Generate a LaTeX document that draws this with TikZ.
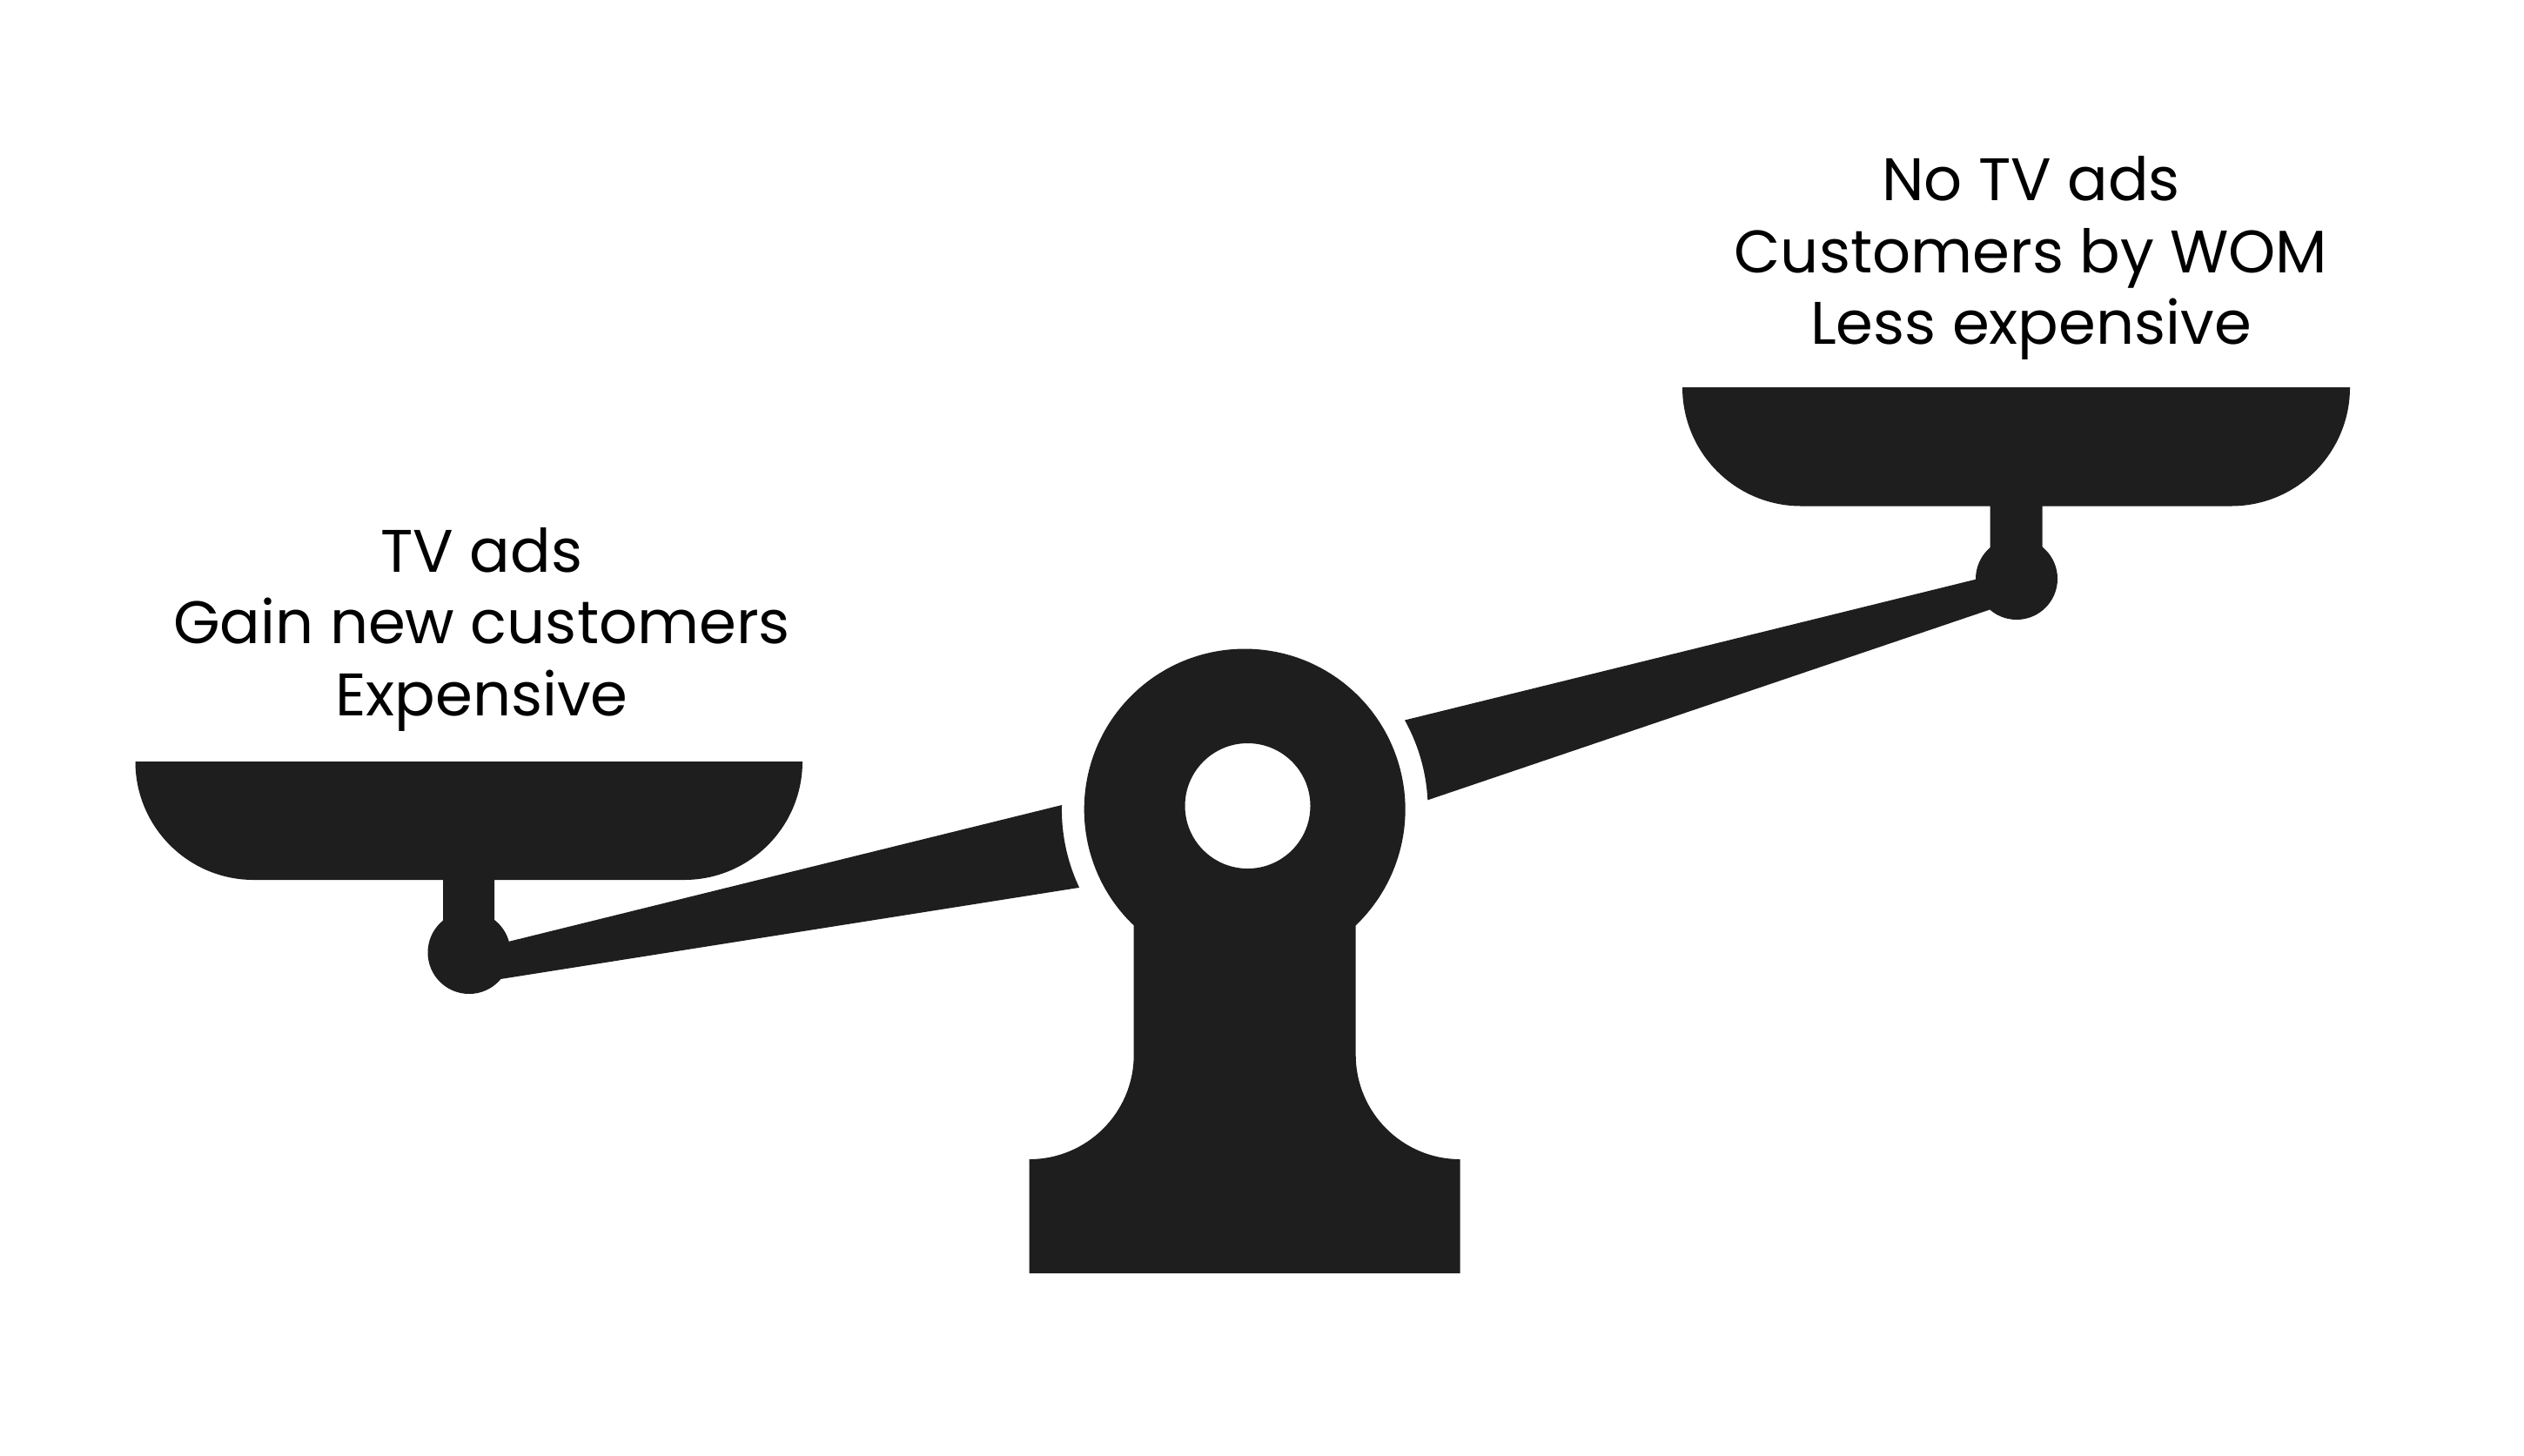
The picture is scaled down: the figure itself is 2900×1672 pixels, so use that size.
\documentclass[tikz,border=0pt]{standalone}
\usepackage{fontspec}
\setmainfont{Poppins}
\definecolor{ink}{HTML}{1E1E1E}
\tikzset{
  solid part/.style={fill=ink,draw=none},
  label text/.style={align=center,text=black,inner sep=0pt,font=\fontsize{34.5}{41.25}\selectfont}
}
\begin{document}
\begin{tikzpicture}[x=0.5pt,y=0.5pt]
\useasboundingbox (0,-1672) rectangle (2900,0);
\fill[white] (0,-1672) rectangle (2900,0);
% stand
\path[solid part,even odd rule]
  (1302.7,-1063.4) arc[start angle=226.3,end angle=-46.3,radius=184.5]
  -- (1557.7,-1212) arc[start angle=180,end angle=270,radius=120]
  -- (1677.7,-1463) -- (1182.7,-1463) -- (1182.7,-1332)
  arc[start angle=270,end angle=360,radius=120] -- cycle
  (1433.5,-926) circle[radius=72];
% left beam
\path[solid part] (539,-1094) -- (584,-1082) -- (1220,-925)
  arc[start angle=178.6,end angle=205.3,radius=210]
  -- (575,-1125) -- cycle;
% right beam
\path[solid part] (2317,-665) -- (2270,-665.7) -- (1614,-827.5)
  arc[start angle=29.1,end angle=2.9,radius=210.7]
  -- (2285.6,-700.7) -- cycle;
% left pan
\path[solid part] (155.5,-875) -- (922,-875)
  arc[start angle=0,end angle=-90,radius=136] -- (568,-1011) -- (568,-1060)
  -- (509,-1060) -- (509,-1011) -- (291.5,-1011)
  arc[start angle=270,end angle=180,radius=136] -- cycle;
\fill[ink] (539,-1094.5) circle[radius=47.5];
% right pan
\path[solid part] (1933,-445) -- (2700,-445)
  arc[start angle=0,end angle=-90,radius=136.5] -- (2346.7,-581.5) -- (2346.7,-632)
  -- (2286.7,-632) -- (2286.7,-581.5) -- (2069.5,-581.5)
  arc[start angle=270,end angle=180,radius=136.5] -- cycle;
\fill[ink] (2317,-665) circle[radius=47];
% labels
\node[label text] (leftlabel) at (553.5,-723) {TV ads\\Gain new customers\\Expensive};
\node[label text] (rightlabel) at (2333.5,-296.5) {No TV ads\\Customers by WOM\\Less expensive};
\end{tikzpicture}
\end{document}
